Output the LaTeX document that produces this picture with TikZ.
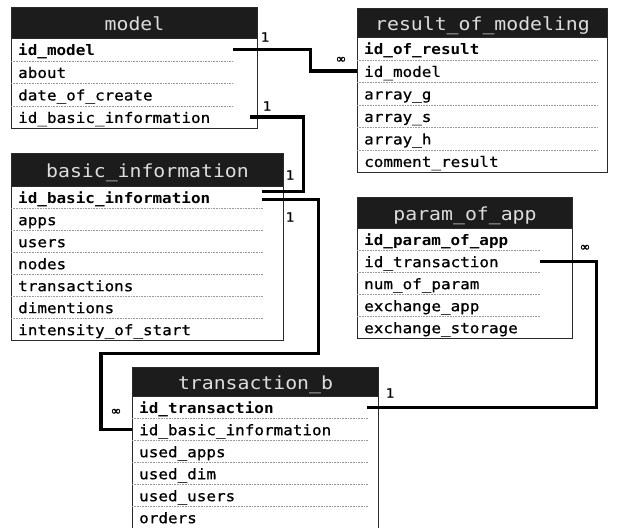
\documentclass[tikz,border=0pt]{standalone}
\usepackage{fontspec}
\setmainfont{DejaVu Sans}
\newfontfamily\monof{DejaVu Sans Mono}[FakeStretch=1.1]
\newfontfamily\monoreg{DejaVu Sans Mono}[FakeStretch=1.1, FakeBold=0.6]
\newfontfamily\infam{DejaVu Sans}[FakeBold=0.8]
\usetikzlibrary{calc}
\definecolor{hdrfill}{HTML}{1C1C1C}
\definecolor{hdrtext}{HTML}{DDDDDD}
\definecolor{sepcol}{HTML}{9A9A9A}
\definecolor{framecol}{HTML}{2A2A2A}
\newcommand{\rowfnt}{\monoreg\fontsize{14.5}{16}\selectfont}
\newcommand{\pkfnt}{\monof\bfseries\fontsize{14.5}{16}\selectfont}
\newcommand{\hdrfnt}{\monof\fontsize{18}{20}\selectfont}
\newcommand{\lblfnt}{\monoreg\fontsize{13}{15}\selectfont}
\newcommand{\inffnt}{\infam\fontsize{13}{15}\selectfont}
\tikzset{
  hdr/.style 2 args={anchor=north west, fill=hdrfill, draw=framecol, line width=1pt,
    text=hdrtext, font=\hdrfnt, inner sep=0pt, minimum width=#1, minimum height=#2,
    text height=15pt, text depth=0pt},
  body/.style 2 args={anchor=north west, draw=framecol, line width=1pt, fill=white,
    minimum width=#1, minimum height=#2, inner sep=0pt},
  row/.style 2 args={anchor=north west, inner xsep=7pt, inner ysep=0pt,
    text width=#1, minimum height=#2, align=left, text height=12pt, text depth=0pt,
    font=\rowfnt},
  pk/.style={font=\pkfnt},
  sep/.style={draw=sepcol, line width=0.6pt, dash pattern=on 0.8pt off 0.8pt},
  conn/.style={draw=black, line width=3.2pt, line join=miter},
  lbl/.style={font=\lblfnt, inner sep=0pt},
  inf/.style={font=\inffnt, inner sep=0pt}
}
\begin{document}
\begin{tikzpicture}[x=1pt,y=-1pt]
\useasboundingbox (0,0) rectangle (617,527);
\fill[white] (0,0) rectangle (617,527);
\clip (0,0) rectangle (617,527);

% model
\node[body={246}{90}] (model-b) at (11,38) {};
\node[hdr={246}{31}] (model-h) at (11,7) {model};
\node[row={208}{22.5}, pk] (model-r1) at (11,38) {id\_model};
\foreach \t [count=\i from 2] in {about, date\_of\_create, id\_basic\_information}
  \node[row={208}{22.5}] (model-r\i) at (11,{38+22.5*(\i-1)}) {\t};
\foreach \i in {1,2,3} \draw[sep] (model-r\i.south west) -- (model-r\i.south east);

% result_of_modeling
\node[body={250}{135}] (res-b) at (357,37) {};
\node[hdr={250}{29}] (res-h) at (357,8) {result\_of\_modeling};
\node[row={226}{22.5}, pk] (res-r1) at (357,37) {id\_of\_result};
\foreach \t [count=\i from 2] in {id\_model, array\_g, array\_s, array\_h, comment\_result}
  \node[row={226}{22.5}] (res-r\i) at (357,{37+22.5*(\i-1)}) {\t};
\foreach \i in {1,...,5} \draw[sep] (res-r\i.south west) -- (res-r\i.south east);

% basic_information
\node[body={272}{154}] (bi-b) at (11,186) {};
\node[hdr={272}{33}] (bi-h) at (11,153) {basic\_information};
\node[row={237}{22}, pk] (bi-r1) at (11,186) {id\_basic\_information};
\foreach \t [count=\i from 2] in {apps, users, nodes, transactions, dimentions, intensity\_of\_start}
  \node[row={237}{22}] (bi-r\i) at (11,{186+22*(\i-1)}) {\t};
\foreach \i in {1,...,6} \draw[sep] (bi-r\i.south west) -- (bi-r\i.south east);

% param_of_app
\node[body={215}{110}] (pa-b) at (357,228) {};
\node[hdr={215}{31}] (pa-h) at (357,197) {param\_of\_app};
\node[row={169}{22}, pk] (pa-r1) at (357,228) {id\_param\_of\_app};
\foreach \t [count=\i from 2] in {id\_transaction, num\_of\_param, exchange\_app, exchange\_storage}
  \node[row={169}{22}] (pa-r\i) at (357,{228+22*(\i-1)}) {\t};
\foreach \i in {1,...,4} \draw[sep] (pa-r\i.south west) -- (pa-r\i.south east);

% transaction_b
\node[body={246}{150}] (ta-b) at (132,396) {};
\node[hdr={246}{29}] (ta-h) at (132,367) {transaction\_b};
\node[row={221}{22}, pk] (ta-r1) at (132,396) {id\_transaction};
\foreach \t [count=\i from 2] in {id\_basic\_information, used\_apps, used\_dim, used\_users, orders}
  \node[row={221}{22}] (ta-r\i) at (132,{396+22*(\i-1)}) {\t};
\foreach \i in {1,...,5} \draw[sep] (ta-r\i.south west) -- (ta-r\i.south east);

% connectors
\draw[conn] (model-r1.east) -- ++(77,0) |- (res-r2.west);
\draw[conn] ($(model-r4.east)+(17,0)$) -| ($(bi-r1.east)+(41,-6)$) -- ($(bi-r1.east)+(0,-6)$);
\draw[conn] ($(bi-r1.east)+(0,2)$) -- ++(56,0) -- ++(0,154) -| ($(ta-r2.west)+(-31,0)$) -- (ta-r2.west);
\draw[conn] (pa-r2.east) -- ++(56,0) |- (ta-r1.east);

% cardinality labels
\node[lbl] (c1a) at (265,37) {1};
\node[inf] (c1b) at (341,60) {∞};
\node[lbl] (c2a) at (267,106) {1};
\node[lbl] (c2b) at (290,175) {1};
\node[lbl] (c3a) at (290,217) {1};
\node[inf] (c3b) at (116,412) {∞};
\node[inf] (c4a) at (585,248) {∞};
\node[lbl] (c4b) at (390,393) {1};
\end{tikzpicture}
\end{document}
